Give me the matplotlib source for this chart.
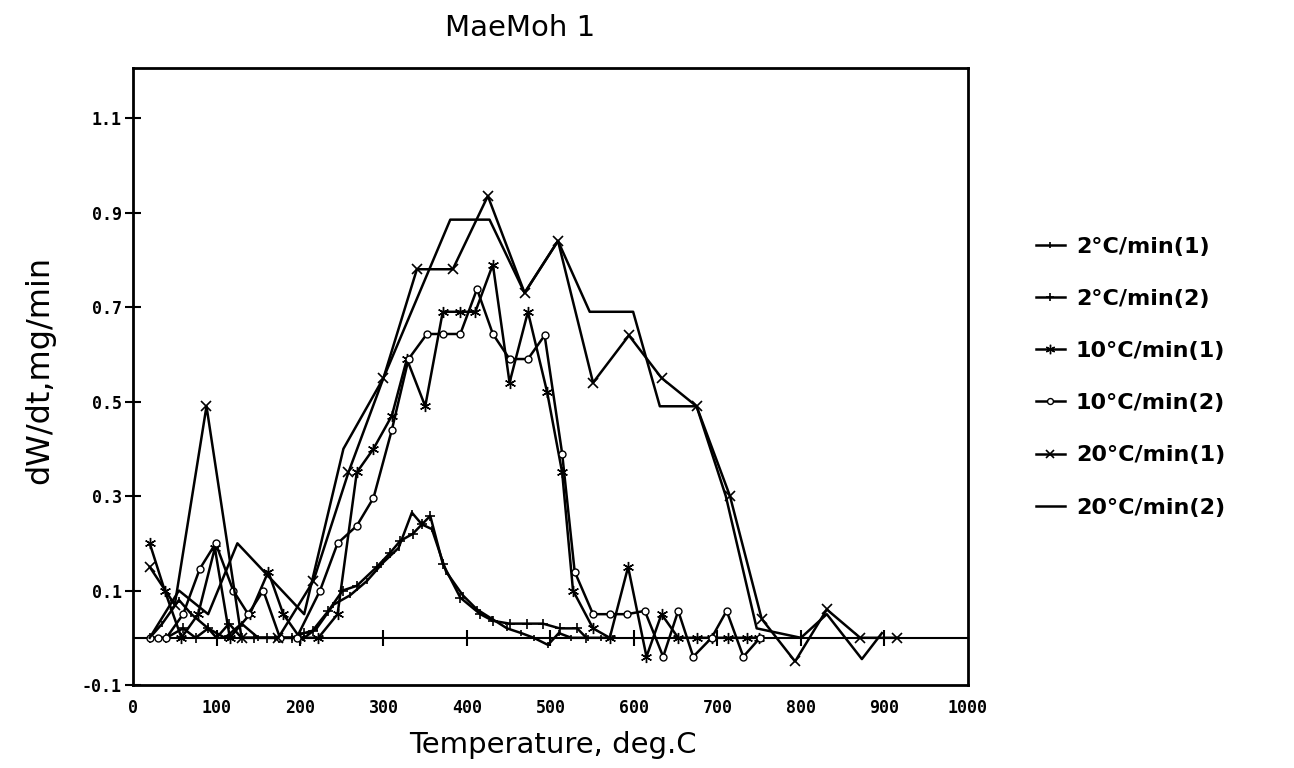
import numpy as np
import matplotlib.pyplot as plt

# temperature (deg C) and dW/dt (mg/min)
t_2a = [20, 35, 55, 70, 90, 110, 130, 150, 170, 190, 205, 220, 240, 260, 280, 300, 318, 334,
        346, 358, 375, 395, 412, 430, 448, 465, 480, 497, 510, 525, 545, 560, 575]
w_2a = [0.0, 0.03, 0.08, 0.05, 0.02, 0.0, 0.03, 0.0, 0.0, 0.0, 0.0, 0.02, 0.07, 0.09, 0.12,
        0.16, 0.19, 0.265, 0.24, 0.23, 0.14, 0.09, 0.06, 0.04, 0.02, 0.01, 0.0, -0.015, 0.01,
        0.0, 0.0, 0.0, 0.0]

t_2b = [20, 40, 60, 75, 90, 100, 115, 130, 145, 160, 175, 190, 205, 215, 234, 251, 268, 292,
        308, 320, 335, 346, 356, 371, 392, 416, 431, 451, 472, 491, 511, 532, 543]
w_2b = [0.0, 0.0, 0.02, 0.0, 0.02, 0.0, 0.03, 0.0, 0.0, 0.0, 0.0, 0.0, 0.01, 0.015, 0.057,
        0.1, 0.11, 0.15, 0.18, 0.205, 0.22, 0.24, 0.258, 0.157, 0.085, 0.05, 0.036, 0.03,
        0.03, 0.03, 0.02, 0.02, 0.0]

t_10a = [20, 38, 58, 78, 98, 116, 140, 162, 180, 200, 222, 245, 268, 288, 310, 328, 350, 371,
         392, 410, 431, 451, 473, 496, 514, 527, 551, 571, 593, 615, 633, 653, 675, 693, 713,
         735, 750]
w_10a = [0.2, 0.1, 0.0, 0.05, 0.19, 0.0, 0.05, 0.14, 0.05, 0.0, 0.0, 0.05, 0.35, 0.40, 0.47,
         0.59, 0.49, 0.69, 0.69, 0.69, 0.79, 0.54, 0.69, 0.52, 0.35, 0.10, 0.02, 0.0, 0.15,
         -0.04, 0.05, 0.0, 0.0, 0.0, 0.0, 0.0, 0.0]

t_10b = [20, 30, 40, 60, 80, 99, 120, 138, 156, 176, 196, 224, 245, 268, 288, 310, 330, 352,
         371, 392, 412, 431, 451, 473, 493, 514, 529, 551, 571, 592, 613, 635, 653, 671, 693,
         711, 731, 751]
w_10b = [0.0, 0.0, 0.0, 0.05, 0.146, 0.2, 0.1, 0.05, 0.1, 0.0, 0.0, 0.1, 0.2, 0.237, 0.296,
         0.44, 0.59, 0.643, 0.643, 0.643, 0.738, 0.643, 0.59, 0.59, 0.64, 0.39, 0.14, 0.05,
         0.05, 0.05, 0.057, -0.04, 0.057, -0.04, 0.0, 0.057, -0.04, 0.0]

t_20a = [20, 50, 88, 130, 174, 216, 258, 300, 340, 383, 425, 469, 509, 551, 594, 633, 675,
         715, 753, 793, 831, 871, 915]
w_20a = [0.15, 0.07, 0.49, 0.0, 0.0, 0.12, 0.35, 0.55, 0.78, 0.78, 0.935, 0.73, 0.84, 0.54,
         0.64, 0.55, 0.49, 0.30, 0.04, -0.05, 0.06, 0.0, 0.0]

t_20b = [20, 55, 90, 125, 205, 252, 300, 380, 427, 469, 509, 547, 599, 631, 675, 710, 747,
         800, 831, 873, 897]
w_20b = [0.0, 0.1, 0.05, 0.2, 0.05, 0.40, 0.55, 0.885, 0.885, 0.73, 0.84, 0.69, 0.69, 0.49,
         0.49, 0.30, 0.02, 0.0, 0.05, -0.045, 0.01]

labels = ['2°C/min(1)', '2°C/min(2)', '10°C/min(1)', '10°C/min(2)',
          '20°C/min(1)', '20°C/min(2)']
x_ticks = [0, 100, 200, 300, 400, 500, 600, 700, 800, 900, 1000]
y_ticks = [-0.1, 0.1, 0.3, 0.5, 0.7, 0.9, 1.1]

fig = plt.figure(figsize=(12.94, 7.68), dpi=100)
ax = fig.add_axes([0.1028, 0.108, 0.6452, 0.8035])

kw = dict(color='black', lw=1.8)
ax.plot(t_2a, w_2a, marker='|', ms=5, mew=1.2, label=labels[0], **kw)
ax.plot(t_2b, w_2b, marker='+', ms=7, mew=1.2, label=labels[1], **kw)
ax.plot(t_10a, w_10a, marker=(6, 2, 0), ms=8, mew=1.0, label=labels[2], **kw)
ax.plot(t_10b, w_10b, marker='o', ms=5, mew=1.0, mfc='white', label=labels[3], **kw)
ax.plot(t_20a, w_20a, marker='x', ms=7, mew=1.2, label=labels[4], **kw)
ax.plot(t_20b, w_20b, label=labels[5], **kw)

# zero line with its own tick marks
ax.axhline(0, color='black', lw=1.5, zorder=1)
ax.plot(x_ticks[1:-1], [0] * (len(x_ticks) - 2), ls='none', marker='|', ms=12,
        mew=1.5, color='black', zorder=1)

ax.set_xlim(0, 1000)
ax.set_ylim(-0.1, 1.206)
ax.set_xticks(x_ticks)
ax.set_yticks(y_ticks)
ax.set_yticklabels(['-0.1', '0.1', '0.3', '0.5', '0.7', '0.9', '1.1'])
ax.tick_params(axis='x', length=0, pad=10)
ax.tick_params(axis='y', direction='inout', length=12, width=1.5, pad=2)
for lab in ax.get_xticklabels() + ax.get_yticklabels():
    lab.set_fontfamily('DejaVu Sans Mono')
    lab.set_fontweight('bold')
    lab.set_fontsize(12)
for s in ax.spines.values():
    s.set_linewidth(2)

fig.text(0.402, 0.963, 'MaeMoh 1', ha='center', va='center', fontsize=21)
fig.text(0.427, 0.030, 'Temperature, deg.C', ha='center', va='center', fontsize=21)
fig.text(0.031, 0.518, 'dW/dt,mg/min', ha='center', va='center', rotation=90, fontsize=23)

fig.legend(loc='upper left', bbox_to_anchor=(0.785, 0.718), frameon=False,
           handlelength=1.3, handletextpad=0.5, labelspacing=1.45, markerscale=0.85,
           prop={'size': 16, 'weight': 'bold'})

fig.savefig('out.png', dpi=100, facecolor='white')
